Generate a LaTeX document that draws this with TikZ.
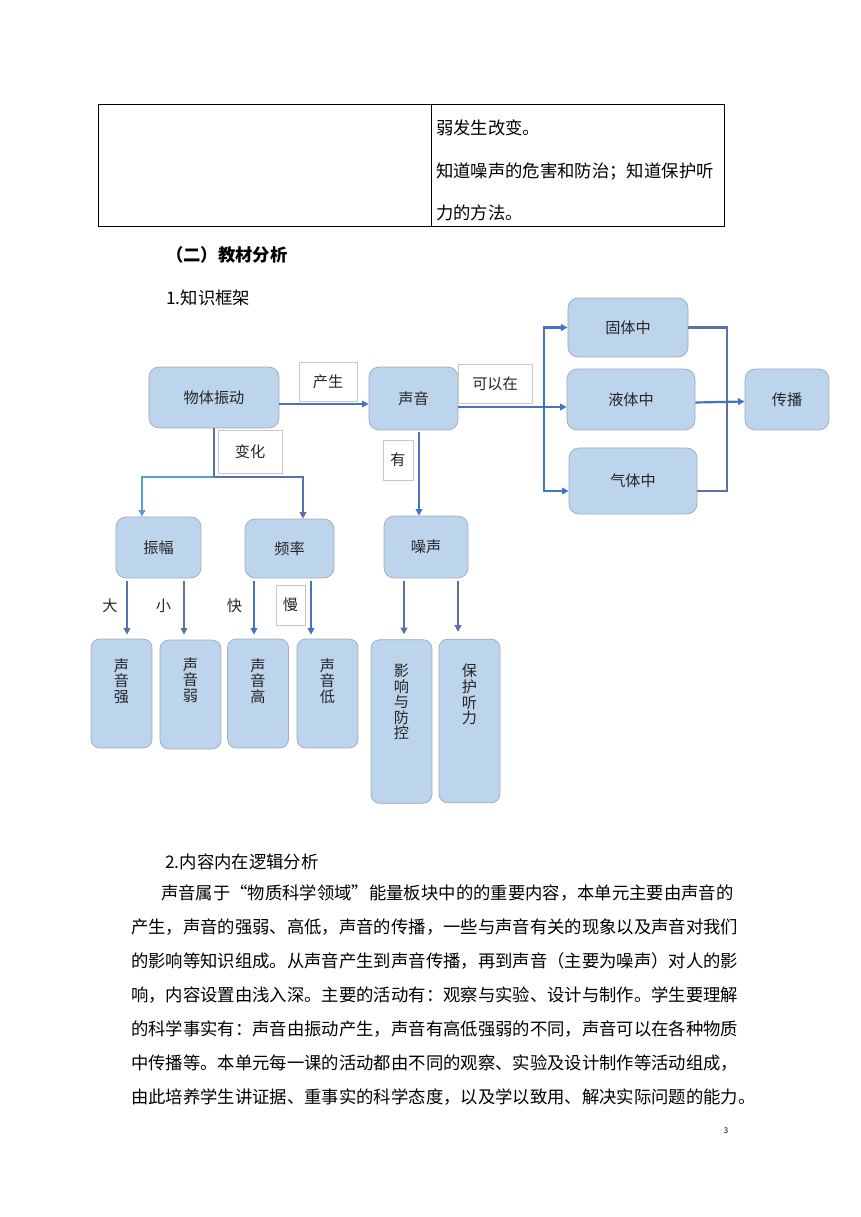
\documentclass[tikz,border=0pt]{standalone}
\usepackage{fontspec}
\setmainfont{Noto Sans CJK SC}
\usetikzlibrary{arrows.meta}

\definecolor{boxfill}{RGB}{189,212,237}
\definecolor{boxline}{RGB}{160,170,186}
\definecolor{tagline}{RGB}{200,200,200}
\definecolor{textgray}{RGB}{38,38,38}
\definecolor{linkblue}{RGB}{68,114,196}
\definecolor{linkslate}{RGB}{92,114,166}
\definecolor{linksky}{RGB}{91,155,213}

\newcommand\diagfont{\fontsize{10.5}{10.8}\selectfont\lineskiplimit=-20pt\relax}
\newcommand\bodyfont{\fontsize{12}{14}\selectfont}

\begin{document}
\begin{tikzpicture}[x=0.6922pt, y=-0.6922pt,
box/.style = {draw=boxline, fill=boxfill, rounded corners=7pt, line width=0.5pt,
  font=\diagfont, text=textgray, inner sep=0pt},
tallbox/.style = {box, rounded corners=6pt, minimum width=42.2pt},
tag/.style = {draw=tagline, fill=white, line width=0.5pt, font=\diagfont,
  text=textgray, inner sep=0pt},
vtext/.style = {font=\diagfont, text=textgray, align=center, inner sep=0pt},
plain/.style = {font=\bodyfont, anchor=west, inner sep=0pt},
flow/.style = {line width=1.5pt, linkblue},
flowslate/.style = {line width=1.5pt, linkslate},
flowsky/.style = {line width=1.5pt, linksky},
arrowed/.style = {-{Triangle[length=4.6pt,width=4.6pt]}}]
\fill[white] (0,0) rectangle (860,1217);
\useasboundingbox (0,0) rectangle (860,1217);

% table
\draw[line width=0.6pt] (98,104) rectangle (724,226);
\draw[line width=0.6pt] (431,104) -- (431,226);
\node[plain] (rowa) at (436,128) {弱发生改变。};
\node[plain] (rowb) at (436,172) {知道噪声的危害和防治；知道保护听};
\node[plain] (rowc) at (436,213) {力的方法。};

\node[plain, font=\bodyfont\bfseries] (section) at (166,255) {（二）教材分析};
\node[plain] (partone) at (166,298) {1.知识框架};

% boxes
\node[box, minimum width=90pt, minimum height=42.2pt] (zhendong) at (214,397.5) {物体振动};
\node[box, minimum width=61.6pt, minimum height=43.6pt] (shengyin) at (413.5,398.5) {声音};
\node[box, minimum width=83.1pt, minimum height=40.8pt] (guti) at (628,327.5) {固体中};
\node[box, minimum width=88.6pt, minimum height=42.2pt] (yeti) at (631,399.5) {液体中};
\node[box, minimum width=88.6pt, minimum height=45.7pt] (qiti) at (633,481) {气体中};
\node[box, minimum width=58.1pt, minimum height=42.2pt] (chuanbo) at (787,399.5) {传播};
\node[box, minimum width=58.8pt, minimum height=42.2pt] (zhenfu) at (158.5,547.5) {振幅};
\node[box, minimum width=61.6pt, minimum height=40.8pt] (pinlv) at (289.5,548.5) {频率};
\node[box, minimum width=58.1pt, minimum height=42.9pt] (zaosheng) at (426,547) {噪声};

\node[tallbox, minimum height=75.4pt] (qiang) at (121.5,693.5) {};
\node[tallbox, minimum height=75.4pt] (ruo) at (190.5,694.5) {};
\node[tallbox, minimum height=75.4pt] (gao) at (258,693.5) {};
\node[tallbox, minimum height=75.4pt] (di) at (327.5,693.5) {};
\node[tallbox, minimum height=113.2pt] (yingxiang) at (401.5,721.5) {};
\node[tallbox, minimum height=113.2pt] (baohu) at (469.5,721) {};
\node[vtext] (qiangtxt) at ([shift={(0,-12.5)}]qiang.center) {声\\音\\强};
\node[vtext] (ruotxt) at ([shift={(0,-14.5)}]ruo.center) {声\\音\\弱};
\node[vtext] (gaotxt) at ([shift={(0,-12.5)}]gao.center) {声\\音\\高};
\node[vtext] (ditxt) at ([shift={(0,-12.5)}]di.center) {声\\音\\低};
\node[vtext] (yingxiangtxt) at ([shift={(0,-19.5)}]yingxiang.center) {影\\响\\与\\防\\控};
\node[vtext] (baohutxt) at ([shift={(0,-26.5)}]baohu.center) {保\\护\\听\\力};

% connectors
\coordinate (fork) at (214,477);
\coordinate (split) at (544,407);
\coordinate (merge) at (727,402);
\draw[flow, arrowed] ([shift={(0,6.5)}]zhendong.east) -- ([shift={(0,5.5)}]shengyin.west);
\draw[flowslate] (zhendong.south) -- (fork);
\draw[flowsky, arrowed] (fork) -| ([shift={(-16.5,0)}]zhenfu.north);
\draw[flowslate, arrowed] (fork) -| ([shift={(13.5,0)}]pinlv.north);
\draw[flow, arrowed] ([shift={(5.5,2)}]shengyin.south) -- ([shift={(-7,0)}]zaosheng.north);
\draw[flow] ([shift={(0,8.5)}]shengyin.east) -- (split);
\draw[flow, arrowed] (split) |- (guti.west);
\draw[flow, arrowed] (split) -- ([shift={(0,7.5)}]yeti.west);
\draw[flow, arrowed] (split) |- ([shift={(0,10)}]qiti.west);
\draw[flowslate] (guti.east) -| (merge) |- ([shift={(0,10)}]qiti.east);
\draw[flow, arrowed] ([shift={(0,3)}]yeti.east) -- ([shift={(0,2)}]chuanbo.west);
\draw[flowslate, arrowed] ([shift={(-31.5,3)}]zhenfu.south) -- ([shift={(5.5,-4)}]qiang.north);
\draw[flowslate, arrowed] ([shift={(25.5,3)}]zhenfu.south) -- ([shift={(-6.5,-5)}]ruo.north);
\draw[flow, arrowed] ([shift={(-35.5,3)}]pinlv.south) -- ([shift={(-4,-4)}]gao.north);
\draw[flow, arrowed] ([shift={(21.5,3)}]pinlv.south) -- ([shift={(-16.5,-4)}]di.north);
\draw[flowslate, arrowed] ([shift={(-22,3)}]zaosheng.south) -- ([shift={(2.5,-5)}]yingxiang.north);
\draw[flowslate, arrowed] ([shift={(32,3)}]zaosheng.south) -- ([shift={(-11.5,-7)}]baohu.north);

% labels
\node[tag, minimum width=40.1pt, minimum height=27pt] (chansheng) at (328,381.5) {产生};
\node[tag, minimum width=51.2pt, minimum height=27pt] (keyizai) at (495,383.5) {可以在};
\node[tag, minimum width=44.3pt, minimum height=29.8pt] (bianhua) at (250,451.5) {变化};
\node[tag, minimum width=20.8pt, minimum height=27.7pt] (you) at (398,460) {有};
\node[tag, minimum width=20.1pt, minimum height=27.7pt] (man) at (290.5,605) {慢};
\node[font=\diagfont, text=textgray] (da) at (110,606) {大};
\node[font=\diagfont, text=textgray] (xiao) at (163.5,606) {小};
\node[font=\diagfont, text=textgray] (kuai) at (234.5,606) {快};

% text
\node[plain] (parttwo) at (165,862) {2.内容内在逻辑分析};
\node[plain] (linea) at (161,893) {声音属于“物质科学领域”能量板块中的的重要内容，本单元主要由声音的};
\node[plain] (lineb) at (131,927) {产生，声音的强弱、高低，声音的传播，一些与声音有关的现象以及声音对我们};
\node[plain] (linec) at (131,961) {的影响等知识组成。从声音产生到声音传播，再到声音（主要为噪声）对人的影};
\node[plain] (lined) at (131,995) {响，内容设置由浅入深。主要的活动有：观察与实验、设计与制作。学生要理解};
\node[plain] (linee) at (131,1029) {的科学事实有：声音由振动产生，声音有高低强弱的不同，声音可以在各种物质};
\node[plain] (linef) at (131,1063) {中传播等。本单元每一课的活动都由不同的观察、实验及设计制作等活动组成，};
\node[plain] (lineg) at (131,1097) {由此培养学生讲证据、重事实的科学态度，以及学以致用、解决实际问题的能力。};
\node[font=\fontsize{5.5}{6}\selectfont] (pagenum) at (726,1131) {3};
\end{tikzpicture}
\end{document}
